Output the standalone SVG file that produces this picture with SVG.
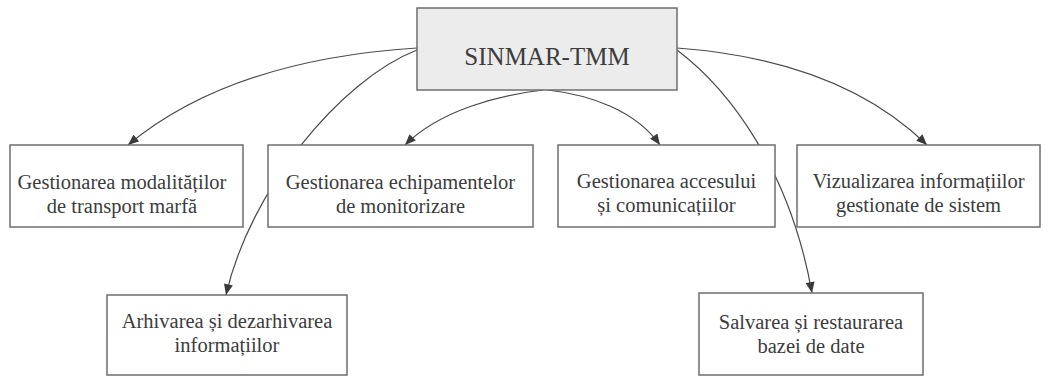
<svg xmlns="http://www.w3.org/2000/svg" width="1060" height="376" viewBox="0 0 1060 376">
  <style>
    .box { fill: #ffffff; stroke: #6e6e6e; stroke-width: 1.5; }
    .root { fill: #ececec; stroke: #6e6e6e; stroke-width: 1.5; }
    text { font-family: "Liberation Serif", "DejaVu Serif", serif; fill: #3c3c3c; text-anchor: middle; }
    .lbl { font-size: 20.5px; }
    .title { font-size: 25px; }
    .edge { fill: none; stroke: #4a4a4a; stroke-width: 1.2; marker-end: url(#arrow); }
  </style>
  <defs>
    <marker id="arrow" viewBox="0 0 12 10" refX="12" refY="5" markerWidth="12" markerHeight="9" markerUnits="userSpaceOnUse" orient="auto">
      <path d="M0,0 L12,5 L0,10 Z" fill="#3a3a3a"/>
    </marker>
  </defs>
  <rect width="1060" height="376" fill="#ffffff"/>

  <!-- curved links from the root box to each module -->
  <g id="connectors">
    <path class="edge" d="M417,48 Q230,60 128,145"/>
    <path class="edge" d="M417,50 C340,80 250,190 226,295"/>
    <path class="edge" d="M543,90 C500,95 440,110 405,145"/>
    <path class="edge" d="M548,90 C590,95 635,110 660,145"/>
    <path class="edge" d="M677,48 Q840,60 927,145"/>
    <path class="edge" d="M677,50 C730,90 790,170 812,293"/>
  </g>

  <g id="sinmar-tmm">
    <rect class="root" x="417" y="8" width="260" height="82"/>
    <text class="title" x="547" y="65">SINMAR-TMM</text>
  </g>

  <g id="modalitati">
    <rect class="box" x="10" y="145" width="233" height="82"/>
    <text class="lbl"><tspan x="122" y="189">Gestionarea modalităților</tspan><tspan x="122" y="213">de transport marfă</tspan></text>
  </g>

  <g id="echipamente">
    <rect class="box" x="268" y="145" width="265" height="82"/>
    <text class="lbl"><tspan x="400.5" y="189">Gestionarea echipamentelor</tspan><tspan x="400.5" y="213">de monitorizare</tspan></text>
  </g>

  <g id="acces">
    <rect class="box" x="558" y="145" width="217" height="82"/>
    <text class="lbl"><tspan x="666.5" y="188">Gestionarea accesului</tspan><tspan x="666.5" y="212">și comunicațiilor</tspan></text>
  </g>

  <g id="vizualizare">
    <rect class="box" x="797" y="145" width="243" height="82"/>
    <text class="lbl"><tspan x="918.5" y="188">Vizualizarea informațiilor</tspan><tspan x="918.5" y="212">gestionate de sistem</tspan></text>
  </g>

  <g id="arhivare">
    <rect class="box" x="107" y="295" width="240" height="80"/>
    <text class="lbl"><tspan x="227" y="328">Arhivarea și dezarhivarea</tspan><tspan x="227" y="352">informațiilor</tspan></text>
  </g>

  <g id="salvare">
    <rect class="box" x="699" y="293" width="224" height="82"/>
    <text class="lbl"><tspan x="811" y="329">Salvarea și restaurarea</tspan><tspan x="811" y="353">bazei de date</tspan></text>
  </g>
</svg>
